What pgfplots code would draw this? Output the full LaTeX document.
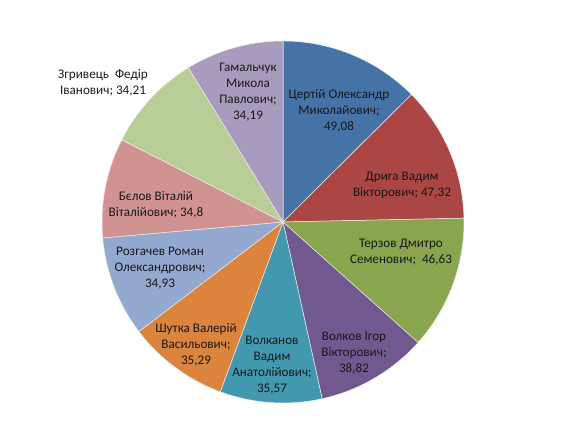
\documentclass[border=0pt]{standalone}
\usepackage{pgfplots}
\pgfplotsset{compat=1.18}
\usepackage{pgfplotstable}
\usepackage{fontspec}
\setmainfont{Carlito}
\definecolor{c1}{HTML}{4572A7}
\definecolor{c2}{HTML}{AA4643}
\definecolor{c3}{HTML}{89A54E}
\definecolor{c4}{HTML}{71588F}
\definecolor{c5}{HTML}{4198AF}
\definecolor{c6}{HTML}{DB843D}
\definecolor{c7}{HTML}{93A9CF}
\definecolor{c8}{HTML}{D19392}
\definecolor{c9}{HTML}{B9CD96}
\definecolor{c10}{HTML}{A99BBD}
\pgfplotstableread[col sep=comma]{
value,col
49.08,c1
47.32,c2
46.63,c3
38.82,c4
35.57,c5
35.29,c6
34.93,c7
34.8,c8
34.21,c9
34.19,c10
}\piedata
\begin{document}
\begin{tikzpicture}
\gdef\pietotal{0}
\foreach \i in {0,...,9}{%
  \pgfplotstablegetelem{\i}{value}\of\piedata
  \pgfmathsetmacro\t{\pietotal+\pgfplotsretval}%
  \global\let\pietotal\t
}
\gdef\piecum{0}
\gdef\piecmds{}
\foreach \i in {0,...,9}{%
  \pgfplotstablegetelem{\i}{value}\of\piedata
  \let\pv\pgfplotsretval
  \pgfplotstablegetelem{\i}{col}\of\piedata
  \let\pc\pgfplotsretval
  \pgfmathsetmacro\sa{90-360*(\piecum/\pietotal)}%
  \pgfmathsetmacro\nc{\piecum+\pv}%
  \pgfmathsetmacro\ea{90-360*(\nc/\pietotal)}%
  \global\let\piecum\nc
  \xdef\piecmds{\unexpanded\expandafter{\piecmds}\noexpand\fill[\pc, draw=white!85!gray, line width=0.5pt] (axis cs:283,221) -- ++(\sa:181bp) arc[start angle=\sa, end angle=\ea, radius=181bp] -- cycle;}%
}
\begin{axis}[
  width=566bp, height=443bp, scale only axis,
  xmin=0, xmax=566, ymin=0, ymax=443,
  hide axis, clip=false,
]
\path (rel axis cs:0,0) rectangle (rel axis cs:1,1);
\piecmds
\tikzset{lbl/.style={align=center, font=\fontsize{13.2}{16.2}\selectfont, text=black!90, inner sep=0pt}}
\node[lbl] at (axis cs:339,{443-111}) {Цертій Олександр\\Миколайович;\\49,08};
\node[lbl] at (axis cs:402,{443-185}) {Дрига Вадим\\Вікторович; 47,32};
\node[lbl] at (axis cs:401,{443-252}) {Терзов Дмитро\\Семенович;~ 46,63};
\node[lbl] at (axis cs:354,{443-353}) {Волков Ігор\\Вікторович;\\38,82};
\node[lbl] at (axis cs:272,{443-365}) {Волканов\\Вадим\\Анатолійович;\\35,57};
\node[lbl] at (axis cs:196,{443-345}) {Шутка Валерій\\Васильович;\\35,29};
\node[lbl] at (axis cs:160,{443-268}) {Розгачев Роман\\Олександрович;\\34,93};
\node[lbl] at (axis cs:156,{443-205}) {Бєлов Віталій\\Віталійович; 34,8};
\node[lbl] at (axis cs:103,{443-83}) {Згривець~ Федір\\Іванович; 34,21};
\node[lbl] at (axis cs:248,{443-92}) {Гамальчук\\Микола\\Павлович;\\34,19};
\end{axis}
\end{tikzpicture}
\end{document}
